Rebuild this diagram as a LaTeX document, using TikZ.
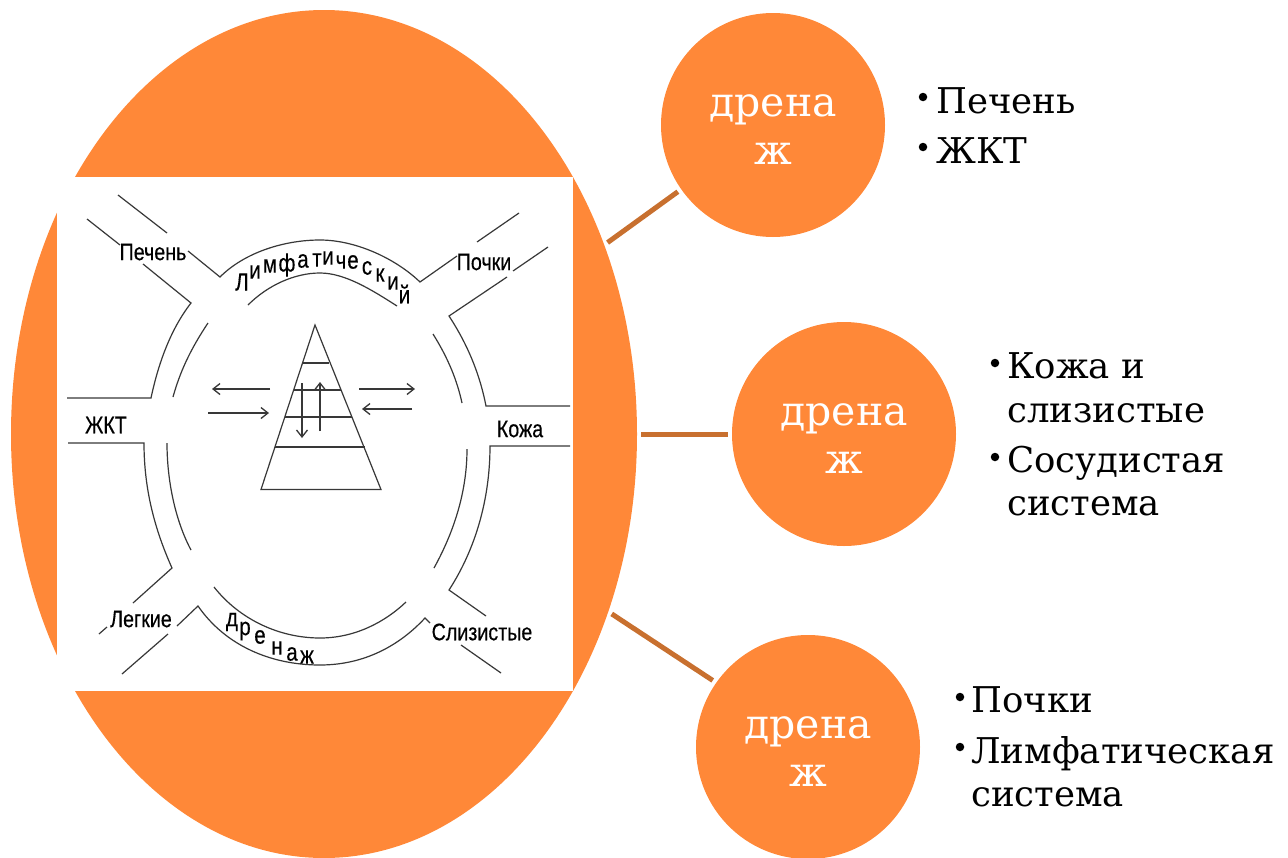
\documentclass[tikz,border=0pt]{standalone}
\usepackage{fontspec}
\usetikzlibrary{shapes.geometric,arrows.meta}
\setmainfont{DejaVu Serif}
\newfontfamily\dsans[FakeBold=0.35]{Liberation Sans}
\definecolor{org}{HTML}{FF8838}
\definecolor{conn}{HTML}{C8702F}
\definecolor{ink}{HTML}{383838}
\newcommand{\sz}[2]{\fontsize{#1}{#2}\selectfont}
\tikzset{x=1pt,y=-1pt,
 bigc/.style={circle,fill=org,minimum size=224pt,inner sep=0pt},
 head/.style={inner sep=0pt,anchor=base,text=white,font=\sz{41}{41}},
 conline/.style={conn,line width=5pt,shorten <=4pt,shorten >=4pt},
 ln/.style={ink,line width=1.2pt},
 ar/.style={ink,line width=1.3pt,-{Straight Barb[length=7pt,width=11pt]}},
 lbl/.style={inner sep=0pt,font=\dsans\sz{24}{24},text=black},
 let/.style={inner sep=0pt,font=\dsans\sz{25}{25},text=black},
 li/.style={inner sep=0pt,anchor=base west,font=\sz{35.5}{36},text=black},
 bu/.style={circle,fill=black,inner sep=0pt,minimum size=8.5pt}}
\newcommand{\nx}[1]{\scalebox{.82}[1]{#1}}
\begin{document}
\begin{tikzpicture}
\useasboundingbox (0,0) rectangle (1288,857);
\node[ellipse,fill=org,minimum width=626pt,minimum height=848pt,inner sep=0pt] (big) at (324,434) {};
\fill[white] (57,177) rectangle (573,691);
\node[bigc] (c1) at (773,125) {};
\node[bigc] (c2) at (844,434) {};
\node[bigc] (c3) at (808,747) {};
\node[head] (h1a) at (773,116) {дрена};
\node[head] (h1b) at (773,164) {ж};
\node[head] (h2a) at (844,425) {дрена};
\node[head] (h2b) at (844,473) {ж};
\node[head] (h3a) at (808,738) {дрена};
\node[head] (h3b) at (808,786) {ж};
\draw[conline] (big.34.2) -- (c1.215.6);
\draw[conline] (big.0) -- (c2.180);
\draw[conline] (big.-32.4) -- (c3.145.4);
% upper left
\draw[ln] (118,195)--(167,233);
\draw[ln] (87,219)--(120,245);
\draw[ln] (188,251)--(220,277) .. controls (245,252) and (285,240) .. (320,240) .. controls (355,240) and (395,258) .. (420,282)--(457,256);
\draw[ln] (143,264)--(191,303) .. controls (170,330) and (158,365) .. (151,398)--(67,398);
\draw[ln] (208,323) .. controls (190,350) and (180,372) .. (173,397);
\draw[ln] (248,305) .. controls (268,285) and (295,273) .. (320,273) .. controls (345,273) and (372,290) .. (397,306);
% upper right
\draw[ln] (477,242)--(519,213);
\draw[ln] (513,271)--(548,247);
\draw[ln] (507,277)--(449,316) .. controls (468,345) and (480,375) .. (486,406)--(570,406);
\draw[ln] (433,334) .. controls (448,358) and (457,380) .. (462,403);
% lower left
\draw[ln] (68,443)--(144,443) .. controls (144,490) and (155,530) .. (172,568)--(133,603);
\draw[ln] (167,443) .. controls (167,480) and (175,520) .. (191,550);
\draw[ln] (107,627)--(99,634);
\draw[ln] (177,626)--(198,606) .. controls (225,645) and (270,665) .. (320,665) .. controls (365,665) and (400,645) .. (425,618)--(430,623);
\draw[ln] (168,634)--(122,674);
\draw[ln] (214,587) .. controls (240,620) and (280,638) .. (320,638) .. controls (355,638) and (385,622) .. (406,602);
% lower right
\draw[ln] (570,446)--(490,446) .. controls (490,500) and (475,550) .. (449,590)--(486,616);
\draw[ln] (467,449) .. controls (467,490) and (455,530) .. (434,568);
\draw[ln] (461,645)--(501,673);
% pyramid
\draw[ln] (315,325)--(381,489.5)--(261,489.5)--cycle;
\draw[ln,line width=1.6pt] (303,363)--(329,363);
\draw[ln] (294,390)--(341,390);
\draw[ln] (285,417)--(352,417);
\draw[ln] (275,447)--(365,447);
\draw[ar] (302,383)--(302,438);
\draw[ar] (320,431)--(320,382);
\draw[ar] (270,389)--(212,389);
\draw[ar] (208,413)--(269,413);
\draw[ar] (359,389)--(415,389);
\draw[ar] (412,409)--(362,409);
% labels
\node[lbl] (p1) at (153,252) {\nx{Печень}};
\node[lbl] (p2) at (484,262) {\nx{Почки}};
\node[lbl] (p3) at (106,425) {\nx{ЖКТ}};
\node[lbl] (p4) at (520,429) {\nx{Кожа}};
\node[lbl] (p5) at (141,619) {\nx{Легкие}};
\node[lbl] (p6) at (482,632) {\nx{Слизистые}};
\foreach \n/\t/\px/\py in {a/Л/242/282,b/и/255/272,c/м/270/266,d/ф/287/265,e/а/303/261,f/т/317/260,g/и/328/258,h/ч/341/262,i/е/353/262,j/с/367/268,k/к/380/275,l/и/393/283,m/й/404.5/294,n/д/232/622,o/р/245/631,q/е/260/637,r/н/277/648,s/а/292/654,t/ж/307/657}
  \node[let] (l\n) at (\px,\py) {\nx{\t}};
% lists
\node[bu] (b1) at (923,97) {};
\node[li] (t1) at (936,113) {Печень};
\node[bu] (b2) at (923,147) {};
\node[li] (t2) at (936,163) {ЖКТ};
\node[bu] (b3) at (995,363) {};
\node[li] (t3) at (1007,378) {Кожа и};
\node[li] (t3b) at (1007,422) {слизистые};
\node[bu] (b4) at (995,457) {};
\node[li] (t4) at (1007,472) {Сосудистая};
\node[li] (t4b) at (1007,515) {система};
\node[bu] (b5) at (960,697) {};
\node[li] (t5) at (971,712) {Почки};
\node[bu] (b6) at (960,747) {};
\node[li] (t6) at (971,763) {Лимфатическая};
\node[li] (t6b) at (971,806) {система};
\end{tikzpicture}
\end{document}
